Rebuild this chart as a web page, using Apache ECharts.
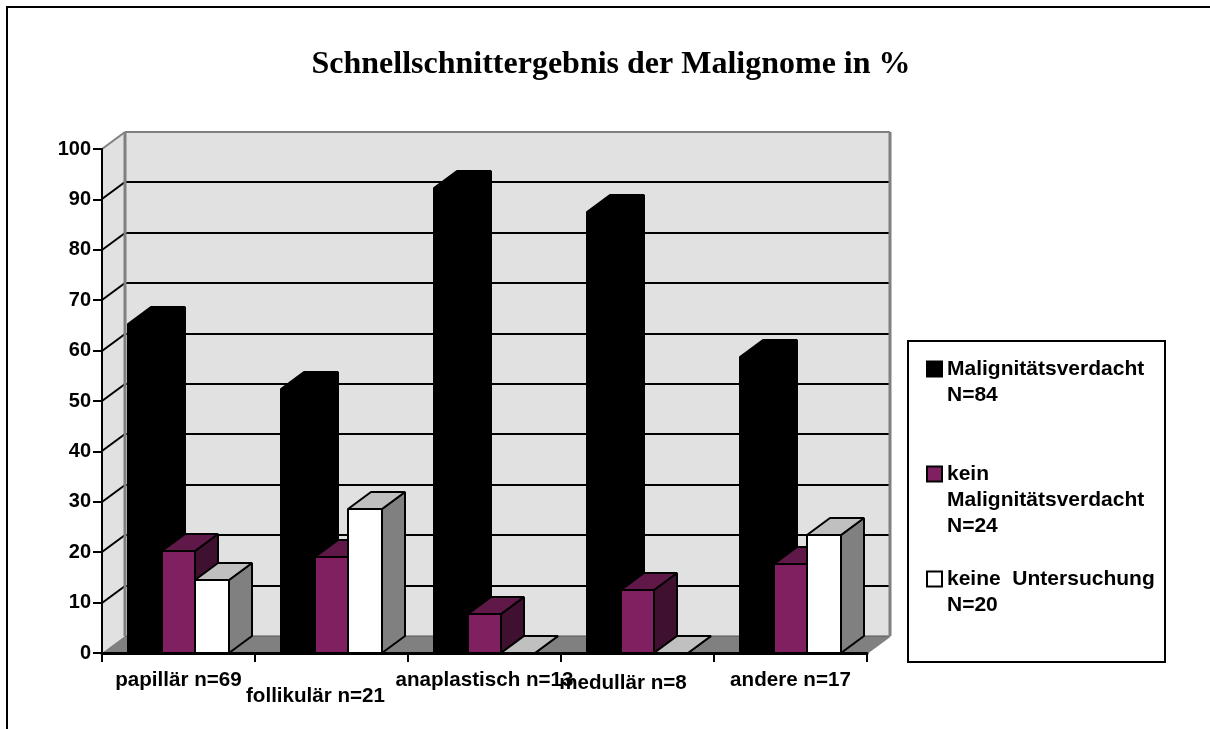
<!DOCTYPE html>
<html>
<head>
<meta charset="utf-8">
<title>Schnellschnittergebnis der Malignome</title>
<style>
  html, body { margin: 0; padding: 0; background: #fff; }
  #chart { width: 1210px; height: 729px; }
</style>
<script src="https://cdn.jsdelivr.net/npm/echarts@6/dist/echarts.min.js"></script>
</head>
<body>
<div id="chart"></div>
<script>
const categories = ['papillär n=69', 'follikulär n=21', 'anaplastisch n=13', 'medullär n=8', 'andere n=17']
const yTicks = [10, 20, 30, 40, 50, 60, 70, 80, 90]
const verdacht = [65.2, 52.4, 92.3, 87.5, 58.8]
const keinVerdacht = [20.3, 19.0, 7.7, 12.5, 17.6]
const keineUntersuchung = [14.5, 28.6, 0, 0, 23.5]
const seriesNames = ['Malignitätsverdacht\nN=84', 'kein\nMalignitätsverdacht\nN=24', 'keine  Untersuchung\nN=20']

// Tiefe der 3D-Darstellung in Pixeln
const DX = 23
const DY = 17
const SANS = '"Liberation Sans", Arial, sans-serif'

function poly(points, fill, stroke, width) {
  return {
    type: 'polygon',
    shape: { points },
    style: { fill, stroke, lineWidth: width, lineJoin: 'bevel' }
  }
}

function line(a, b, color, width) {
  return {
    type: 'line',
    shape: { x1: a[0], y1: a[1], x2: b[0], y2: b[1] },
    style: { stroke: color, lineWidth: width }
  }
}

// Wände und Boden
function renderWalls(params, api) {
  const band = api.size([1, 0])[0]
  const left = api.coord([0, 0])[0] - band / 2
  const right = api.coord([categories.length - 1, 0])[0] + band / 2
  const y0 = api.coord([0, 0])[1]
  const y100 = api.coord([0, 100])[1]
  const children = [
    poly([[left + DX, y100 - DY], [right + DX, y100 - DY], [right + DX, y0 - DY], [left + DX, y0 - DY]], '#e1e1e1', 'none', 0),
    poly([[left, y100], [left + DX, y100 - DY], [left + DX, y0 - DY], [left, y0]], '#e1e1e1', 'none', 0)
  ]
  yTicks.forEach((t) => {
    const y = Math.round(api.coord([0, t])[1])
    children.push(line([left, y], [left + DX, y - DY], '#000', 2))
    children.push(line([left + DX, y - DY], [right + DX, y - DY], '#000', 2))
  })
  children.push(poly([[left, y0], [left + DX, y0 - DY], [right + DX, y0 - DY], [right, y0]], '#808080', 'none', 0))
  children.push(line([left + DX, y0 - DY], [right + DX, y0 - DY], '#555', 1))
  children.push(line([left, y100], [left + DX, y100 - DY], '#808080', 2))
  children.push(line([left + DX, y100 - DY], [right + DX, y100 - DY], '#808080', 2))
  children.push(line([left + DX, y100 - DY], [left + DX, y0 - DY], '#808080', 3))
  children.push(line([right + DX, y100 - DY], [right + DX, y0 - DY], '#808080', 3))
  children.push(line([right + DX, y0 - DY], [right, y0], '#808080', 2))
  return { type: 'group', children }
}

// Säule aus Vorderseite, Deckel und Seitenfläche
function makeBar(offset, front, top, side, edge) {
  return function (params, api) {
    const band = api.size([1, 0])[0]
    const w = band * 0.222
    const base = api.coord([api.value(0), 0])
    const yTop = Math.round(api.coord([api.value(0), api.value(1)])[1])
    const x0 = Math.round(base[0] + (offset - 0.5) * w)
    const x1 = Math.round(base[0] + (offset + 0.5) * w)
    return {
      type: 'group',
      children: [
        poly([[x1, yTop], [x1 + DX, yTop - DY], [x1 + DX, base[1] - DY], [x1, base[1]]], side, edge, 2),
        poly([[x0, yTop], [x0 + DX, yTop - DY], [x1 + DX, yTop - DY], [x1, yTop]], top, edge, 2),
        poly([[x0, yTop], [x1, yTop], [x1, base[1]], [x0, base[1]]], front, edge, 2)
      ]
    }
  }
}

function barSeries(name, values, offset, front, top, side) {
  return {
    type: 'custom',
    name,
    coordinateSystem: 'cartesian2d',
    renderItem: makeBar(offset, front, top, side, '#000'),
    data: values.map((v, i) => [i, v]),
    itemStyle: { color: front, borderColor: '#000', borderWidth: 2 },
    z: 3
  }
}

const chart = echarts.init(document.getElementById('chart'))
chart.setOption({
  animation: false,
  backgroundColor: '#fff',
  title: {
    text: 'Schnellschnittergebnis der Malignome in %',
    left: 606,
    top: 44,
    textAlign: 'center',
    textStyle: { fontFamily: '"Liberation Serif", serif', fontWeight: 'bold', fontSize: 32, color: '#000' }
  },
  legend: {
    orient: 'vertical',
    left: 926,
    top: 330,
    padding: 0,
    itemGap: 1,
    itemWidth: 15,
    itemHeight: 15,
    selectedMode: false,
    z: 10,
    data: seriesNames.map((name) => ({ name, icon: 'rect', itemStyle: { borderColor: '#000', borderWidth: 2 } })),
    // Leerzeilen, damit das Symbol auf Höhe der ersten Zeile steht
    formatter: (name) => '\n'.repeat(name.split('\n').length - 1) + name,
    textStyle: { fontFamily: SANS, fontWeight: 'bold', fontSize: 21, lineHeight: 26, color: '#000' }
  },
  grid: { left: 102, top: 149, width: 765, height: 504, containLabel: false },
  xAxis: {
    type: 'category',
    data: categories,
    z: 10,
    axisLine: { lineStyle: { color: '#000', width: 3 } },
    axisTick: { show: true, length: 9, lineStyle: { color: '#000', width: 2 } },
    axisLabel: {
      interval: 0,
      margin: 17,
      formatter: (value, index) => `{c${index}|${value}}`,
      rich: {
        c0: { fontFamily: SANS, fontWeight: 'bold', fontSize: 20.6, color: '#000' },
        c1: { fontFamily: SANS, fontWeight: 'bold', fontSize: 20.6, color: '#000', padding: [16, 32, 0, 0] },
        c2: { fontFamily: SANS, fontWeight: 'bold', fontSize: 20.6, color: '#000' },
        c3: { fontFamily: SANS, fontWeight: 'bold', fontSize: 20.6, color: '#000', padding: [3, 29, 0, 0] },
        c4: { fontFamily: SANS, fontWeight: 'bold', fontSize: 20.6, color: '#000' }
      }
    },
    splitLine: { show: false }
  },
  yAxis: {
    type: 'value',
    min: 0,
    max: 100,
    interval: 10,
    z: 10,
    axisLine: { show: true, lineStyle: { color: '#000', width: 2 } },
    axisTick: { show: true, length: 9, lineStyle: { color: '#000', width: 2 } },
    axisLabel: { margin: 11, fontFamily: SANS, fontWeight: 'bold', fontSize: 20, color: '#000' },
    splitLine: { show: false }
  },
  series: [
    {
      type: 'custom',
      name: 'Wände',
      coordinateSystem: 'cartesian2d',
      renderItem: renderWalls,
      data: [[0, 0]],
      silent: true,
      z: 1
    },
    barSeries(seriesNames[0], verdacht, -1, '#000000', '#000000', '#000000'),
    barSeries(seriesNames[1], keinVerdacht, 0, '#802060', '#601848', '#401030'),
    barSeries(seriesNames[2], keineUntersuchung, 1, '#ffffff', '#c0c0c0', '#808080')
  ],
  graphic: [
    // Rahmen oben und links
    {
      type: 'polyline',
      silent: true,
      shape: { points: [[7, 729], [7, 7], [1210, 7]] },
      style: { fill: 'none', stroke: '#000', lineWidth: 2 },
      z: 0
    },
    // Legendenkasten
    {
      type: 'rect',
      silent: true,
      shape: { x: 908, y: 341, width: 257, height: 321 },
      style: { fill: '#fff', stroke: '#000', lineWidth: 2 },
      z: 0
    }
  ]
})
</script>
</body>
</html>
